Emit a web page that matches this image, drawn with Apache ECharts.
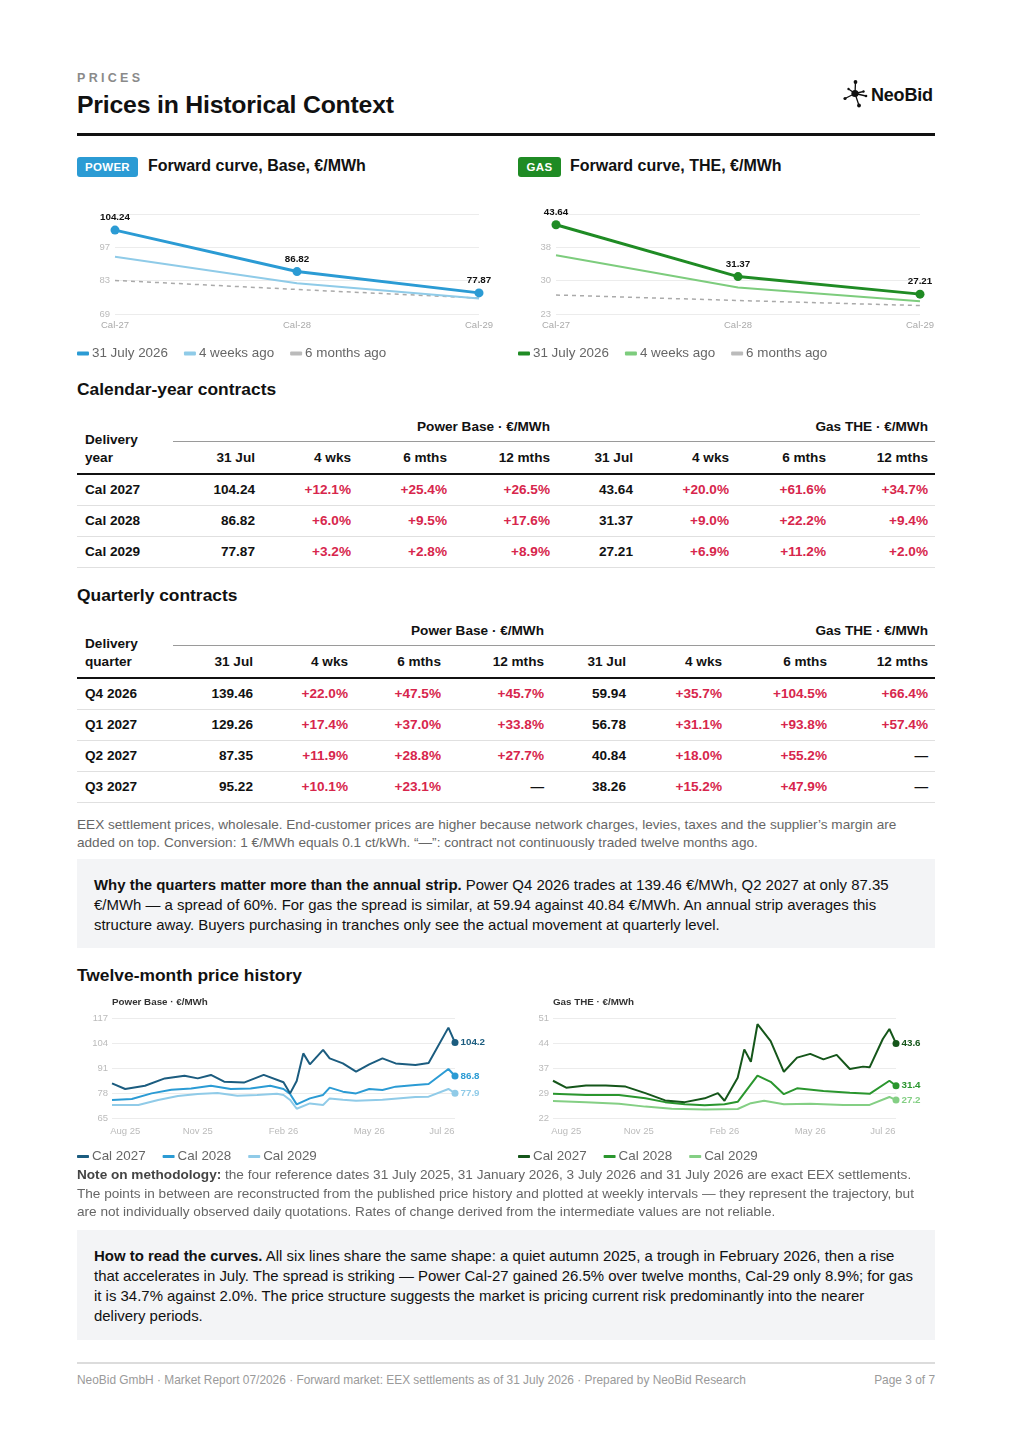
<!DOCTYPE html>
<html>
<head>
<meta charset="utf-8">
<script src="https://cdn.jsdelivr.net/npm/echarts@6/dist/echarts.min.js"></script>
<style>
  html, body { margin: 0; padding: 0; background: #fff; }
  body { width: 1012px; height: 1432px; position: relative; font-family: "Liberation Sans", Arial, sans-serif; color: #111; overflow: hidden; }
  .abs { position: absolute; }
  .kicker { left: 77px; top: 71px; font-size: 12.5px; font-weight: bold; letter-spacing: 3.3px; color: #8a8a8a; line-height: 14px; }
  .title { left: 77px; top: 91px; font-size: 24.8px; font-weight: bold; line-height: 28px; letter-spacing: -0.2px; }
  .rule { left: 77px; top: 133px; width: 858px; height: 3px; background: #111; }
  .badge { top: 157px; height: 20px; line-height: 20px; border-radius: 3px; color: #fff; font-size: 11.5px; font-weight: bold; text-align: center; letter-spacing: 0.3px; }
  .ctitle { top: 157px; line-height: 18px; font-size: 16px; font-weight: bold; }
  .h2 { left: 77px; font-size: 17.4px; font-weight: bold; line-height: 20px; }
  .chart { width: 420px; height: 175px; }
  .tbl { left: 77px; width: 858px; font-size: 13.6px; }
  .row { display: flex; position: relative; }
  .cell { box-sizing: border-box; padding-right: 7px; text-align: right; white-space: nowrap; }
  .note { left: 77px; font-size: 13.6px; line-height: 17.5px; color: #666; white-space: nowrap; }
  .callout { left: 77px; width: 858px; background: #f3f4f6; box-sizing: border-box; padding: 16px 17px 0 17px; font-size: 14.95px; line-height: 20px; color: #111; white-space: nowrap; }
  .footer { top: 1373px; font-size: 11.9px; color: #9a9a9a; line-height: 14px; }
</style>
</head>
<body>

<div class="abs kicker">PRICES</div>
<div class="abs title">Prices in Historical Context</div>
<svg class="abs" style="left:840px;top:78px" width="30" height="32" viewBox="840 78 30 32">
  <g stroke="#111" stroke-width="1.3">
    <line x1="855" y1="93.5" x2="855.5" y2="82"/>
    <line x1="855" y1="93.5" x2="845" y2="98.5"/>
    <line x1="855" y1="93.5" x2="848.5" y2="89"/>
    <line x1="855" y1="93.5" x2="863.5" y2="91.5"/>
    <line x1="855" y1="93.5" x2="866" y2="96"/>
    <line x1="855" y1="93.5" x2="859" y2="105.5"/>
  </g>
  <g fill="#111">
    <circle cx="855" cy="93.5" r="3.6"/>
    <circle cx="855.5" cy="82" r="1.9"/>
    <circle cx="845" cy="98.5" r="1.6"/>
    <circle cx="848.5" cy="89" r="1.2"/>
    <circle cx="863.5" cy="91.5" r="1.2"/>
    <circle cx="866" cy="96" r="1.3"/>
    <circle cx="859" cy="105.5" r="1.9"/>
  </g>
</svg>
<div class="abs" style="left:871px;top:85px;font-size:18px;font-weight:bold;line-height:20px;letter-spacing:-0.2px">NeoBid</div>
<div class="abs rule"></div>

<div class="abs badge" style="left:77px;width:61px;background:#2b9bd4">POWER</div>
<div class="abs ctitle" style="left:148px">Forward curve, Base, €/MWh</div>
<div class="abs badge" style="left:518px;width:43px;background:#1f8b24">GAS</div>
<div class="abs ctitle" style="left:570px">Forward curve, THE, €/MWh</div>

<div id="fwdPower" class="abs chart" style="left:77px;top:190px"></div>
<div id="fwdGas" class="abs chart" style="left:518px;top:190px"></div>

<div class="abs h2" style="top:379px">Calendar-year contracts</div>
<div id="tblCal" class="abs tbl" style="top:412px"></div>

<div class="abs h2" style="top:585px">Quarterly contracts</div>
<div id="tblQ" class="abs tbl" style="top:616px"></div>

<div class="abs note" style="top:816px">EEX settlement prices, wholesale. End-customer prices are higher because network charges, levies, taxes and the supplier’s margin are<br>added on top. Conversion: 1 €/MWh equals 0.1 ct/kWh. “—”: contract not continuously traded twelve months ago.</div>

<div class="abs callout" style="top:859px;height:89px"><b>Why the quarters matter more than the annual strip.</b> Power Q4 2026 trades at 139.46 €/MWh, Q2 2027 at only 87.35<br>€/MWh — a spread of 60%. For gas the spread is similar, at 59.94 against 40.84 €/MWh. An annual strip averages this<br>structure away. Buyers purchasing in tranches only see the actual movement at quarterly level.</div>

<div class="abs h2" style="top:965px">Twelve-month price history</div>

<div id="histPower" class="abs chart" style="left:77px;top:993px"></div>
<div id="histGas" class="abs chart" style="left:518px;top:993px"></div>

<div class="abs note" style="top:1166px;line-height:18.5px"><b style="color:#444">Note on methodology:</b> the four reference dates 31 July 2025, 31 January 2026, 3 July 2026 and 31 July 2026 are exact EEX settlements.<br>The points in between are reconstructed from the published price history and plotted at weekly intervals — they represent the trajectory, but<br>are not individually observed daily quotations. Rates of change derived from the intermediate values are not reliable.</div>

<div class="abs callout" style="top:1230px;height:110px"><b>How to read the curves.</b> All six lines share the same shape: a quiet autumn 2025, a trough in February 2026, then a rise<br>that accelerates in July. The spread is striking — Power Cal-27 gained 26.5% over twelve months, Cal-29 only 8.9%; for gas<br>it is 34.7% against 2.0%. The price structure suggests the market is pricing current risk predominantly into the nearer<br>delivery periods.</div>

<div class="abs" style="left:77px;top:1362px;width:858px;height:1.5px;background:#dcdcdc"></div>
<div class="abs footer" style="left:77px">NeoBid GmbH · Market Report 07/2026 · Forward market: EEX settlements as of 31 July 2026 · Prepared by NeoBid Research</div>
<div class="abs footer" style="right:77px">Page 3 of 7</div>

<script>
// forward curves
const fwdCats = ['Cal-27', 'Cal-28', 'Cal-29']
const powerNow = [104.24, 86.82, 77.87]
const power4w = [93.0, 81.9, 75.5]
const power6m = [83.1, 79.3, 75.7]
const gasNow = [43.64, 31.37, 27.21]
const gas4w = [36.4, 28.8, 25.5]
const gas6m = [27.0, 25.7, 24.5]
const fwdNames = ['31 July 2026', '4 weeks ago', '6 months ago']

// calendar-year table
const calLabels = ['Cal 2027', 'Cal 2028', 'Cal 2029']
const calPower = [104.24, 86.82, 77.87]
const calPowerChg = [[12.1, 25.4, 26.5], [6.0, 9.5, 17.6], [3.2, 2.8, 8.9]]
const calGas = [43.64, 31.37, 27.21]
const calGasChg = [[20.0, 61.6, 34.7], [9.0, 22.2, 9.4], [6.9, 11.2, 2.0]]

// quarterly table
const qLabels = ['Q4 2026', 'Q1 2027', 'Q2 2027', 'Q3 2027']
const qPower = [139.46, 129.26, 87.35, 95.22]
const qPowerChg = [[22.0, 47.5, 45.7], [17.4, 37.0, 33.8], [11.9, 28.8, 27.7], [10.1, 23.1, null]]
const qGas = [59.94, 56.78, 40.84, 38.26]
const qGasChg = [[35.7, 104.5, 66.4], [31.1, 93.8, 57.4], [18.0, 55.2, null], [15.2, 47.9, null]]
const colHeads = ['31 Jul', '4 wks', '6 mths', '12 mths', '31 Jul', '4 wks', '6 mths', '12 mths']

// twelve-month history, [week index, €/MWh]
const histTicks = { 2: 'Aug 25', 13: 'Nov 25', 26: 'Feb 26', 39: 'May 26', 50: 'Jul 26' }
const histNames = ['Cal 2027', 'Cal 2028', 'Cal 2029']
const hPow27 = [[0, 83.0], [2, 80.1], [5, 81.8], [8, 85.6], [11, 87.0], [13, 85.6], [15, 87.4], [17, 83.9], [20, 83.4], [23, 87.4], [26, 83.6], [27, 77.8], [28, 84.2], [29, 98.6], [30, 92.9], [32, 100.4], [33, 96.0], [35, 93.4], [37, 89.1], [39, 92.9], [41, 96.0], [43, 93.4], [46, 92.6], [48, 93.6], [51, 112.0], [52, 104.24]]
const hPow28 = [[0, 74.4], [3, 74.9], [6, 77.8], [9, 79.7], [12, 80.4], [15, 81.8], [18, 80.1], [21, 80.4], [24, 81.8], [26, 80.1], [27, 77.5], [28, 72.1], [30, 75.2], [32, 77.0], [33, 80.8], [35, 78.7], [37, 77.8], [39, 80.1], [41, 79.6], [43, 81.3], [46, 82.2], [48, 82.7], [51, 90.5], [52, 86.82]]
const hPow29 = [[0, 71.8], [4, 71.8], [7, 74.4], [10, 76.4], [13, 77.5], [16, 78.0], [19, 76.6], [22, 77.0], [25, 77.6], [26, 77.0], [27, 74.4], [28, 69.8], [30, 72.6], [32, 71.8], [33, 75.2], [35, 74.5], [37, 74.0], [41, 74.5], [46, 75.9], [48, 76.1], [51, 80.1], [52, 77.87]]
const hGas27 = [[0, 32.8], [2, 30.8], [5, 31.4], [8, 31.4], [11, 31.1], [14, 29.2], [17, 27.1], [20, 26.6], [23, 27.7], [25, 29.2], [26, 27.0], [28, 33.7], [29, 41.9], [30, 38.3], [31, 49.2], [33, 44.3], [35, 35.4], [37, 39.5], [39, 40.6], [41, 39.0], [43, 40.3], [45, 36.2], [47, 36.9], [48, 36.7], [50, 44.9], [51, 47.8], [52, 43.64]]
const hGas28 = [[0, 29.0], [5, 28.7], [10, 28.7], [14, 27.7], [17, 26.6], [20, 26.0], [23, 25.7], [26, 26.0], [28, 26.7], [31, 34.3], [33, 32.5], [35, 28.9], [37, 30.6], [41, 29.8], [45, 29.3], [48, 29.0], [51, 32.8], [52, 31.37]]
const hGas29 = [[0, 26.9], [5, 26.6], [10, 26.1], [14, 25.3], [18, 24.7], [23, 24.5], [28, 24.6], [30, 26.3], [32, 27.0], [35, 26.0], [39, 26.1], [44, 25.8], [48, 25.8], [51, 28.1], [52, 27.21]]

const FONT = '"Liberation Sans", Arial, sans-serif'

function fwdOption(now, w4, m6, colors, yMin, yMax, yStep) {
    return {
        animation: false,
        textStyle: { fontFamily: FONT },
        grid: { left: 38, right: 18, top: 24, height: 100 },
        legend: {
            left: 0,
            top: 157,
            padding: 0,
            icon: 'roundRect',
            itemWidth: 12,
            itemHeight: 4,
            itemGap: 16,
            textStyle: { fontSize: 13.4, color: '#666', padding: [0, 0, 0, -2] },
            data: fwdNames,
        },
        xAxis: {
            type: 'category',
            boundaryGap: false,
            data: fwdCats,
            axisLine: { show: false },
            axisTick: { show: false },
            axisLabel: { color: '#aaa', fontSize: 9.5, margin: 6 },
        },
        yAxis: {
            type: 'value',
            min: yMin,
            max: yMax,
            interval: yStep,
            axisLine: { show: false },
            axisTick: { show: false },
            axisLabel: {
                color: '#bbb',
                fontSize: 9.5,
                margin: 5,
                showMaxLabel: false,
                formatter: v => Math.round(v),
            },
            splitLine: { lineStyle: { color: '#ececec' } },
        },
        series: [
            {
                name: fwdNames[2],
                type: 'line',
                data: m6,
                symbol: 'none',
                lineStyle: { color: '#aaa', width: 1.5, type: [4, 4] },
                itemStyle: { color: '#bbb' },
            },
            {
                name: fwdNames[1],
                type: 'line',
                data: w4,
                symbol: 'none',
                lineStyle: { color: colors[1], width: 2 },
                itemStyle: { color: colors[1] },
            },
            {
                name: fwdNames[0],
                type: 'line',
                data: now,
                symbol: 'circle',
                symbolSize: 9,
                lineStyle: { color: colors[0], width: 3 },
                itemStyle: { color: colors[0] },
                label: {
                    show: true,
                    position: 'top',
                    distance: 3,
                    color: '#111',
                    fontSize: 9.8,
                    fontWeight: 'bold',
                    formatter: p => p.value.toFixed(2),
                },
            },
        ],
    }
}

function lastPoint(data, color) {
    const out = data.slice(0, -1)
    const last = data[data.length - 1]
    out.push({
        value: last,
        symbol: 'circle',
        symbolSize: 7,
        label: {
            show: true,
            position: 'right',
            distance: 2,
            color,
            fontSize: 9.8,
            fontWeight: 'bold',
            formatter: () => last[1].toFixed(1),
        },
    })
    return out
}

function histOption(title, lines, colors, yMin, yMax, yStep) {
    return {
        animation: false,
        textStyle: { fontFamily: FONT },
        title: {
            text: title,
            left: 35,
            top: 4,
            padding: 0,
            textStyle: { fontSize: 9.8, fontWeight: 'bold', color: '#333' },
        },
        grid: { left: 35, width: 343, top: 25, height: 100 },
        legend: {
            left: 0,
            top: 157,
            padding: 0,
            icon: 'roundRect',
            itemWidth: 12,
            itemHeight: 3,
            itemGap: 17,
            textStyle: { fontSize: 13.4, color: '#666', padding: [0, 0, 0, -2] },
            data: histNames,
        },
        xAxis: {
            type: 'value',
            min: 0,
            max: 52,
            interval: 1,
            axisLine: { show: false },
            axisTick: { show: false },
            splitLine: { show: false },
            axisLabel: {
                color: '#bbb',
                fontSize: 9.5,
                margin: 8,
                formatter: v => histTicks[v] || '',
            },
        },
        yAxis: {
            type: 'value',
            min: yMin,
            max: yMax,
            interval: yStep,
            axisLine: { show: false },
            axisTick: { show: false },
            axisLabel: { color: '#bbb', fontSize: 9.5, margin: 4, formatter: v => Math.round(v) },
            splitLine: { lineStyle: { color: '#ececec' } },
        },
        series: lines.map((d, i) => ({
            name: histNames[i],
            type: 'line',
            data: lastPoint(d, colors[i]),
            symbol: 'none',
            showSymbol: true,
            z: 10 - i,
            lineStyle: { color: colors[i], width: 2 },
            itemStyle: { color: colors[i] },
        })),
    }
}

const powerColors = ['#2b9bd4', '#8fcbe8']
const gasColors = ['#1f8b24', '#7dcc7d']
const histPowerColors = ['#1b5c7f', '#2b9bd4', '#90cbe8']
const histGasColors = ['#15561a', '#2a962e', '#84cf84']

echarts.init(document.getElementById('fwdPower')).setOption(fwdOption(powerNow, power4w, power6m, powerColors, 69, 111, 14))
echarts.init(document.getElementById('fwdGas')).setOption(fwdOption(gasNow, gas4w, gas6m, gasColors, 22.5, 46.2, 7.9))
echarts.init(document.getElementById('histPower')).setOption(histOption('Power Base · €/MWh', [hPow27, hPow28, hPow29], histPowerColors, 65, 117, 13))
echarts.init(document.getElementById('histGas')).setOption(histOption('Gas THE · €/MWh', [hGas27, hGas28, hGas29], histGasColors, 22, 51, 7.25))

// tables
const pct = v => (v == null ? '<span style="color:#111">—</span>' : '+' + v.toFixed(1) + '%')

function buildTable(id, rowLabel, labels, power, powerChg, gas, gasChg, widths) {
    const el = document.getElementById(id)
    const left = widths[0]
    const pw = widths.slice(1, 5).reduce((a, b) => a + b, 0)
    const gw = widths.slice(5).reduce((a, b) => a + b, 0)
    let html = ''
    html += '<div class="row" style="height:30px">'
    html += `<div style="width:${left}px"></div>`
    html += `<div class="cell" style="width:${pw}px;line-height:30px;font-weight:bold;border-bottom:1.5px solid #9a9a9a">Power Base · €/MWh</div>`
    html += `<div class="cell" style="width:${gw}px;line-height:30px;font-weight:bold;border-bottom:1.5px solid #9a9a9a">Gas THE · €/MWh</div>`
    html += '</div>'
    html += '<div class="row" style="height:31px;border-bottom:2.5px solid #111">'
    html += `<div style="width:${left}px"></div>`
    colHeads.forEach((h, i) => {
        html += `<div class="cell" style="width:${widths[i + 1]}px;line-height:31px;font-weight:bold">${h}</div>`
    })
    html += '</div>'
    html += `<div style="position:absolute;left:8px;top:19px;line-height:18px;font-weight:bold">${rowLabel}</div>`
    labels.forEach((lab, r) => {
        html += '<div class="row" style="height:30px;border-bottom:1.5px solid #e0e0e0;font-weight:bold">'
        html += `<div class="cell" style="width:${left}px;text-align:left;padding-left:8px;line-height:30px">${lab}</div>`
        const vals = [power[r].toFixed(2), ...powerChg[r].map(pct), gas[r].toFixed(2), ...gasChg[r].map(pct)]
        vals.forEach((v, i) => {
            const red = i !== 0 && i !== 4
            html += `<div class="cell" style="width:${widths[i + 1]}px;line-height:30px;color:${red ? '#d7264c' : '#111'}">${v}</div>`
        })
        html += '</div>'
    })
    el.innerHTML = html
}

buildTable('tblCal', 'Delivery<br>year', calLabels, calPower, calPowerChg, calGas, calGasChg,
    [96, 89, 96, 96, 103, 83, 96, 97, 102])
buildTable('tblQ', 'Delivery<br>quarter', qLabels, qPower, qPowerChg, qGas, qGasChg,
    [96, 87, 95, 93, 103, 82, 96, 105, 101])
</script>
</body>
</html>
